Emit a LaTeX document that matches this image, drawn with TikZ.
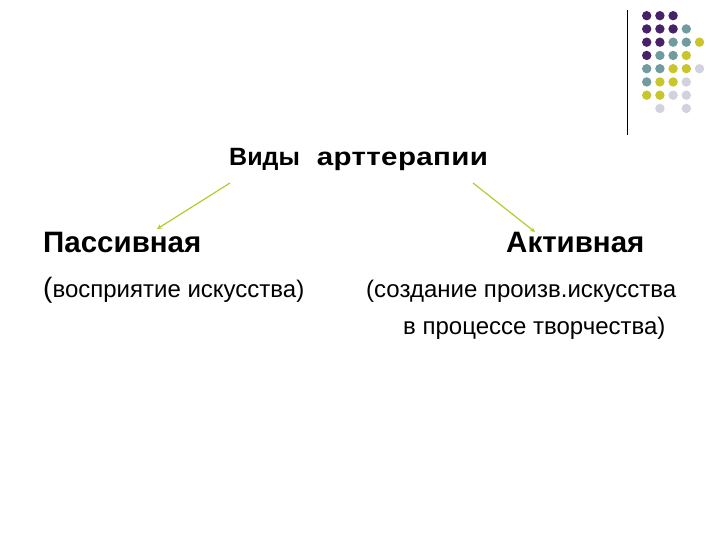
\documentclass[tikz,border=0pt]{standalone}
\usepackage{fontspec}
\setmainfont{Liberation Sans}
\newfontfamily\widebold[FakeStretch=1.18, LetterSpace=1.5]{Liberation Sans}
\definecolor{dotpurple}{RGB}{72,34,102}
\definecolor{dotteal}{RGB}{112,156,160}
\definecolor{dotyellow}{RGB}{200,198,44}
\definecolor{dotgray}{RGB}{210,210,222}
\definecolor{linklime}{RGB}{178,204,44}
\begin{document}
\begin{tikzpicture}[x=1pt, y=1pt, >=stealth,
  title/.style={anchor=base west, inner sep=0pt, font=\fontsize{25}{30}\selectfont\bfseries},
  head/.style={anchor=base west, inner sep=0pt, font=\fontsize{29.5}{35}\selectfont\bfseries},
  note/.style={anchor=base west, inner sep=0pt, font=\fontsize{24}{29}\selectfont},
  link/.style={->, linklime, line width=1.2pt}]
  \useasboundingbox (0,0) rectangle (720,540);

  % Ozdoba w rogu: pionowa kreska i kropki
  \draw[black, line width=0.8pt] (627,530) -- (627,405);
  \foreach \c/\r/\col in {0/0/dotpurple, 1/0/dotpurple, 2/0/dotpurple,
                          0/1/dotpurple, 1/1/dotpurple, 2/1/dotpurple, 3/1/dotteal,
                          0/2/dotpurple, 1/2/dotpurple, 2/2/dotteal, 3/2/dotteal, 4/2/dotyellow,
                          0/3/dotpurple, 1/3/dotteal, 2/3/dotteal, 3/3/dotyellow,
                          0/4/dotteal, 1/4/dotteal, 2/4/dotyellow, 3/4/dotyellow, 4/4/dotgray,
                          0/5/dotteal, 1/5/dotyellow, 2/5/dotyellow, 3/5/dotgray,
                          0/6/dotyellow, 1/6/dotyellow, 2/6/dotgray, 3/6/dotgray,
                          1/7/dotgray, 3/7/dotgray} {
    \fill[\col] ({646.7+13.2*\c}, {524.3-13.25*\r}) circle (4.7);
  }

  % Tytul
  \node[title] (vidy) at (229,374)
    {Виды\hspace{10pt} {\widebold\bfseries арттерапии}};

  % Dwa rodzaje
  \node[head] (passive) at (43,287) {Пассивная};
  \node[head] (active) at (506,287) {Активная};

  \node[note] (passnote) at (43,242)
    {{\fontsize{28}{34}\selectfont(}восприятие искусства)};
  \node[note] (actnote1) at (366,242) {(создание произв.искусства};
  \node[note] (actnote2) at (403,205) {в процессе творчества)};

  % Strzalki
  \coordinate (vidyL) at (230,357);
  \coordinate (vidyR) at (473,357);
  \coordinate (passtop) at (157,311);
  \coordinate (acttop) at (535,308);
  \draw[link] (vidyL) -- (passtop);
  \draw[link] (vidyR) -- (acttop);
\end{tikzpicture}
\end{document}
